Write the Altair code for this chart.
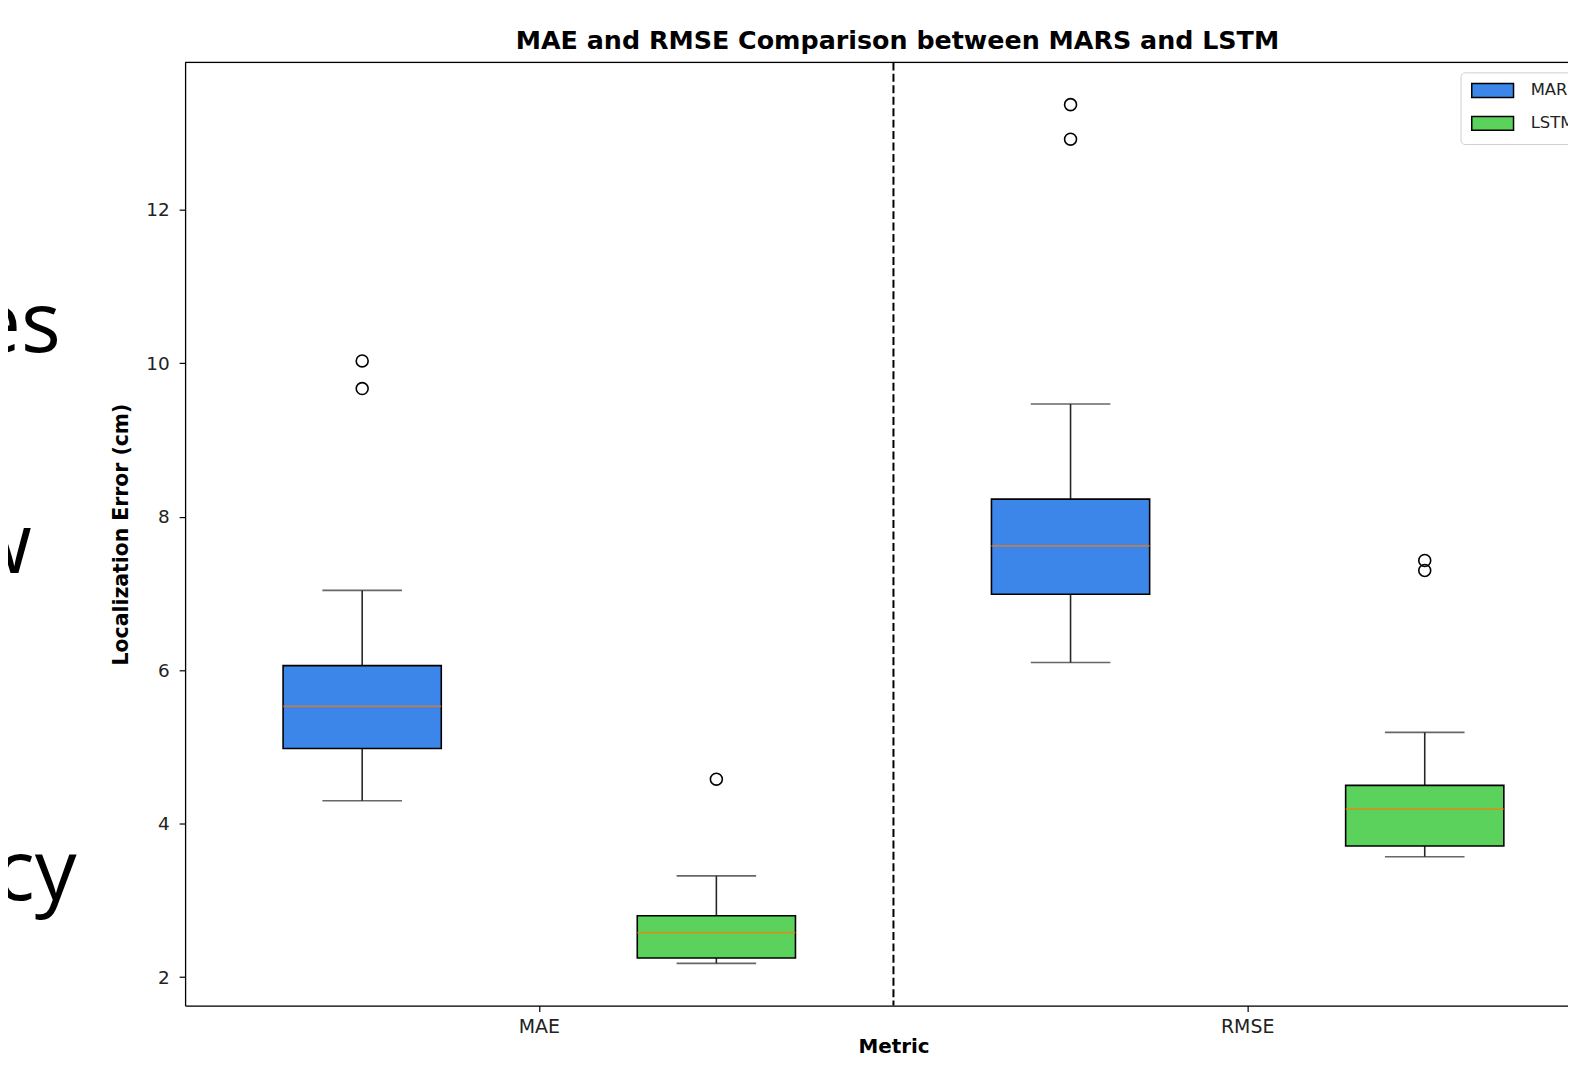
import altair as alt
import pandas as pd

# ---- data ----
metrics = ["MAE", "MAE", "RMSE", "RMSE"]
models = ["MARS", "LSTM", "MARS", "LSTM"]
whisker_low = [4.30, 2.18, 6.10, 3.57]
q1 = [4.98, 2.25, 6.99, 3.71]
median = [5.53, 2.58, 7.62, 4.19]
q3 = [6.06, 2.80, 8.23, 4.50]
whisker_high = [7.04, 3.32, 9.47, 5.19]

outlier_metric = ["MAE", "MAE", "MAE", "RMSE", "RMSE", "RMSE", "RMSE"]
outlier_model = ["MARS", "MARS", "LSTM", "MARS", "MARS", "LSTM", "LSTM"]
outlier_value = [10.03, 9.67, 4.58, 13.37, 12.92, 7.43, 7.30]

metric_order = ["MAE", "RMSE"]
model_order = ["MARS", "LSTM"]
model_colors = ["#3b86e8", "#5bd25b"]
y_ticks = [2, 4, 6, 8, 10, 12]
separator_at = ["RMSE"]
side_words = ["es", "w", "cy"]

stats = pd.DataFrame({
    "metric": metrics, "model": models, "low": whisker_low, "q1": q1,
    "median": median, "q3": q3, "high": whisker_high,
})
outliers = pd.DataFrame({"metric": outlier_metric, "model": outlier_model, "value": outlier_value})

PAD_L = 178
PLOT_W = 1568 - PAD_L
PLOT_H = 948
FULL_W = 1424  # full matplotlib axes width (right part is cut off in the screenshot)

FONT = "DejaVu Sans"

xscale = alt.Scale(domain=metric_order, range=[0, FULL_W], paddingInner=0, paddingOuter=0)
oscale = alt.Scale(domain=model_order, paddingInner=0, paddingOuter=0)
yscale = alt.Scale(domain=[1.63, 13.92], nice=False, zero=False)

x_enc = alt.X("metric:N", scale=xscale, axis=alt.Axis(
    title="Metric", labelAngle=0, labelAlign="center", labelFont=FONT, labelFontSize=19,
    labelColor="#222", titleFont=FONT, titleFontSize=20, titleFontWeight="bold",
    titleColor="black", tickSize=6, tickColor="black", tickWidth=1.2, domainColor="black",
    domainWidth=1.3, labelPadding=15, titlePadding=0, grid=False))
xo_enc = alt.XOffset("model:N", scale=oscale)

y_axis = alt.Axis(values=y_ticks, format="d", title="Localization Error (cm)", labelFont=FONT,
                  labelFontSize=18.5, labelColor="#222", titleFont=FONT, titleFontSize=20.5,
                  titleFontWeight="bold", titleColor="black", tickSize=6, tickColor="black",
                  tickWidth=1.2, domainColor="black", domainWidth=1.3, labelPadding=10,
                  titlePadding=14, grid=False)

base = alt.Chart(stats)

whiskers = base.mark_rule(color="#262626", strokeWidth=1.6).encode(
    x=x_enc, xOffset=xo_enc,
    y=alt.Y("low:Q", scale=yscale, axis=y_axis), y2="high:Q")

boxes = base.mark_bar(width=159, stroke="black", strokeWidth=1.6, opacity=1).encode(
    x=x_enc, xOffset=xo_enc,
    y=alt.Y("q1:Q", scale=yscale), y2="q3:Q",
    color=alt.Color("model:N", scale=alt.Scale(domain=model_order, range=model_colors),
                    legend=alt.Legend(
                        orient="none", legendX=1282, legendY=10, title=None,
                        symbolType="M-3,-1L3,-1L3,1L-3,1Z", symbolSize=196,
                        symbolStrokeColor="black", symbolStrokeWidth=1.5, symbolOpacity=1,
                        symbolOffset=14, labelOffset=30, labelFont=FONT, labelFontSize=16.5,
                        labelColor="#222", fillColor="white", strokeColor="#d0d0d0",
                        cornerRadius=4, padding=10, rowPadding=12)))

medians = base.mark_tick(size=159, thickness=1.8, color="#fb7a0a", orient="horizontal").encode(
    x=x_enc, xOffset=xo_enc, y=alt.Y("median:Q", scale=yscale))

caps_low = base.mark_tick(size=80, thickness=1.6, color="#262626", orient="horizontal").encode(
    x=x_enc, xOffset=xo_enc, y=alt.Y("low:Q", scale=yscale))
caps_high = base.mark_tick(size=80, thickness=1.6, color="#262626", orient="horizontal").encode(
    x=x_enc, xOffset=xo_enc, y=alt.Y("high:Q", scale=yscale))

fliers = alt.Chart(outliers).mark_point(shape="circle", filled=False, size=144,
                                        stroke="black", strokeWidth=1.6, opacity=1).encode(
    x=x_enc, xOffset=xo_enc, y=alt.Y("value:Q", scale=yscale))

sep_df = pd.DataFrame({"metric": separator_at})
separator = alt.Chart(sep_df).mark_rule(color="black", strokeWidth=2, strokeDash=[8, 3.5]).encode(
    x=alt.X("metric:N", scale=xscale, bandPosition=0))

top_spine = alt.Chart(alt.Data(values=[{}])).mark_rule(color="black", strokeWidth=1.3).encode(
    x=alt.value(0), x2=alt.value(FULL_W), y=alt.value(0))

word_pos = [(-125, 291), (-154, 513), (-109, 842)]
words = []
for w, (px, py) in zip(side_words, word_pos):
    words.append(alt.Chart(alt.Data(values=[{}])).mark_text(
        font="Open Sans", fontSize=84, align="right", baseline="alphabetic", color="black").encode(
        x=alt.value(px), y=alt.value(py), text=alt.value(w)))

chart = alt.layer(
    separator, whiskers, boxes, medians, caps_low, caps_high, fliers, top_spine, *words
).properties(
    width=PLOT_W, height=PLOT_H,
    title=alt.TitleParams("MAE and RMSE Comparison between MARS and LSTM", font=FONT,
                          fontSize=25.5, fontWeight="bold", color="black", anchor="middle",
                          dx=21, dy=26, offset=13, baseline="alphabetic"),
    autosize=alt.AutoSizeParams(type="none"),
    padding={"left": PAD_L, "top": 52, "right": 0, "bottom": 52},
).configure_view(stroke=None).configure(background="white")

chart.save("out.html", embed_options={"renderer": "svg", "actions": False})
